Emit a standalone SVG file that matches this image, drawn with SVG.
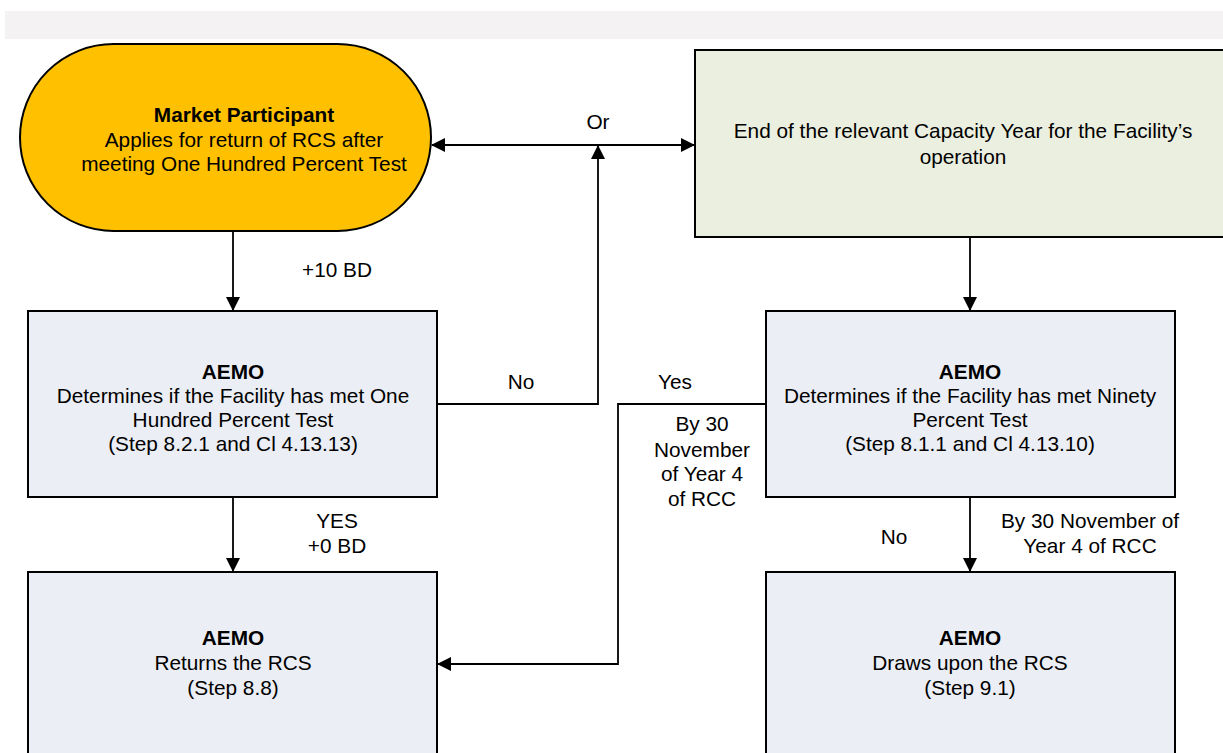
<svg xmlns="http://www.w3.org/2000/svg" width="1223" height="753" viewBox="0 0 1223 753">
<defs>
<marker id="ah" markerUnits="userSpaceOnUse" markerWidth="14" markerHeight="14" viewBox="0 0 14 14" refX="13" refY="7" orient="auto">
<path d="M0,0 L14,7 L0,14 Z" fill="#000"/>
</marker>
</defs>
<style>
text{font-family:"Liberation Sans",Arial,sans-serif;font-size:20.8px;fill:#000;text-anchor:middle}
.b{font-weight:bold}
.box{fill:#ebeef4;stroke:#000;stroke-width:2}
.conn{fill:none;stroke:#000;stroke-width:1.8}
</style>
<rect width="1223" height="753" fill="#fff"/>
<rect x="5" y="11" width="1218" height="28" fill="#f4f2f3"/>

<g id="market-participant">
<rect x="20" y="44" width="411" height="187" rx="93.5" ry="93.5" fill="#ffc000" stroke="#000" stroke-width="2"/>
<text x="244" y="122" class="b">Market Participant</text>
<text x="244" y="147">Applies for return of RCS after</text>
<text x="244" y="171">meeting One Hundred Percent Test</text>
</g>

<g id="end-capacity-year">
<rect x="695" y="50" width="540" height="187" fill="#ebefdf" stroke="#000" stroke-width="2"/>
<text x="963" y="138">End of the relevant Capacity Year for the Facility’s</text>
<text x="963" y="164">operation</text>
</g>

<g id="aemo-100">
<rect class="box" x="28" y="311" width="409" height="186"/>
<text x="233" y="379" class="b">AEMO</text>
<text x="233" y="403">Determines if the Facility has met One</text>
<text x="233" y="427">Hundred Percent Test</text>
<text x="233" y="451">(Step 8.2.1 and Cl 4.13.13)</text>
</g>

<g id="aemo-90">
<rect class="box" x="766" y="311" width="409" height="186"/>
<text x="970" y="379" class="b">AEMO</text>
<text x="970" y="403">Determines if the Facility has met Ninety</text>
<text x="970" y="427">Percent Test</text>
<text x="970" y="451">(Step 8.1.1 and Cl 4.13.10)</text>
</g>

<g id="aemo-returns">
<rect class="box" x="28" y="572" width="409" height="200"/>
<text x="233" y="645" class="b">AEMO</text>
<text x="233" y="670">Returns the RCS</text>
<text x="233" y="695">(Step 8.8)</text>
</g>

<g id="aemo-draws">
<rect class="box" x="766" y="572" width="409" height="200"/>
<text x="970" y="645" class="b">AEMO</text>
<text x="970" y="670">Draws upon the RCS</text>
<text x="970" y="695">(Step 9.1)</text>
</g>

<g id="connectors">
<path class="conn" d="M233,231 L233,310" marker-end="url(#ah)"/>
<path class="conn" d="M233,497 L233,571" marker-end="url(#ah)"/>
<path class="conn" d="M437,404 L598,404 L598,146" marker-end="url(#ah)"/>
<path class="conn" d="M598,145 L432,145" marker-end="url(#ah)"/>
<path class="conn" d="M598,145 L694,145" marker-end="url(#ah)"/>
<path class="conn" d="M970,237 L970,310" marker-end="url(#ah)"/>
<path class="conn" d="M766,404 L618,404 L618,664 L438,664" marker-end="url(#ah)"/>
<path class="conn" d="M970,497 L970,571" marker-end="url(#ah)"/>
</g>

<g id="labels">
<text x="337" y="277">+10 BD</text>
<text x="598" y="129">Or</text>
<text x="521" y="389">No</text>
<text x="337" y="528">YES</text>
<text x="337" y="553">+0 BD</text>
<text x="675" y="389">Yes</text>
<text x="702" y="431">By 30</text>
<text x="702" y="457">November</text>
<text x="702" y="481">of Year 4</text>
<text x="702" y="506">of RCC</text>
<text x="894" y="544">No</text>
<text x="1090" y="528">By 30 November of</text>
<text x="1090" y="553">Year 4 of RCC</text>
</g>
</svg>
